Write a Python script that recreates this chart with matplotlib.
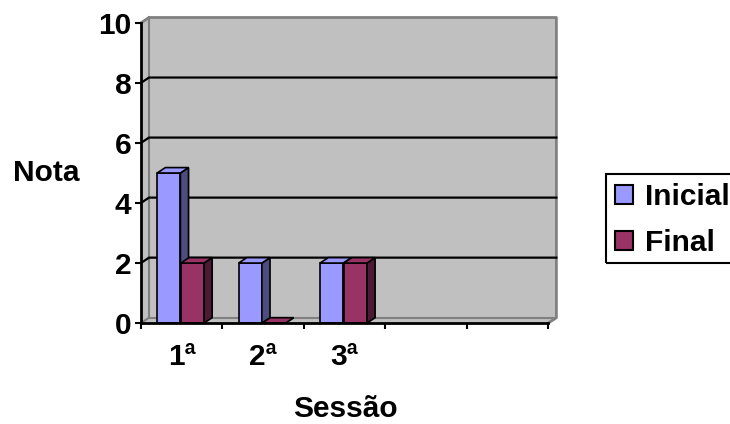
import numpy as np
import matplotlib.pyplot as plt
from matplotlib.patches import Polygon, Patch, Rectangle

plt.rcParams['font.family'] = ['Liberation Sans', 'DejaVu Sans']
plt.rcParams['font.weight'] = 'bold'

# notas por sessão
sessoes = ['1ª', '2ª', '3ª']
n_slots = 5
inicial = [5, 2, 2]
final = [2, 0, 2]
yticks = [0, 2, 4, 6, 8, 10]

cor_ini = '#9999FF'
cor_ini_lado = '#4D4D80'
cor_fin = '#993366'
cor_fin_lado = '#4D1A33'
parede = '#C0C0C0'
borda = '#808080'

# profundidade do efeito 3D (em unidades dos dados)
dx, dy = 0.1, 0.18
w = 0.285
fs = 21.5

fig = plt.figure(figsize=(7.3, 4.24), dpi=100)
ax = fig.add_axes([0.193, 0.238, 0.558, 0.708])
ax.set_xlim(0, n_slots)
ax.set_ylim(0, 10)
ax.patch.set_visible(False)

top = yticks[-1]
# paredes e piso
ax.add_patch(Polygon([(0, 0), (dx, dy), (dx, top + dy), (0, top)], closed=True,
                     fc=parede, ec='none', clip_on=False, zorder=0))
ax.add_patch(Polygon([(dx, dy), (n_slots + dx, dy), (n_slots + dx, top + dy), (dx, top + dy)],
                     closed=True, fc=parede, ec='none', clip_on=False, zorder=0))
ax.add_patch(Polygon([(0, 0), (n_slots, 0), (n_slots + dx, dy), (dx, dy)], closed=True,
                     fc=parede, ec='none', clip_on=False, zorder=0))
# bordas cinzas
ax.plot([0, dx, n_slots + dx, n_slots + dx, n_slots], [top, top + dy, top + dy, dy, 0],
        color=borda, lw=2, clip_on=False, zorder=1)
ax.plot([dx, dx, n_slots + dx], [top + dy, dy, dy], color=borda, lw=1.5, clip_on=False, zorder=1)
ax.plot([0, dx], [0, dy], color=borda, lw=1.5, clip_on=False, zorder=1)

# linhas de grade
for v in yticks[1:-1]:
    ax.plot([0, dx, n_slots + dx], [v, v + dy, v + dy], color='black', lw=1.6,
            clip_on=False, zorder=1)


def barras_3d(xs, vals, cor, cor_lado, z):
    ax.bar(xs, vals, width=w, align='edge', color=cor, edgecolor='black',
           linewidth=1.2, zorder=z)
    for x, v in zip(xs, vals):
        lado = [(x + w, 0), (x + w + dx, dy), (x + w + dx, v + dy), (x + w, v)]
        tampa = [(x, v), (x + dx, v + dy), (x + w + dx, v + dy), (x + w, v)]
        ax.add_patch(Polygon(lado, closed=True, fc=cor_lado, ec='black', lw=1.2,
                             zorder=z, clip_on=False))
        ax.add_patch(Polygon(tampa, closed=True, fc=cor, ec='black', lw=1.2,
                             zorder=z, clip_on=False))


idx = np.arange(len(sessoes))
barras_3d(idx + 0.2, inicial, cor_ini, cor_ini_lado, 3)
barras_3d(idx + 0.49, final, cor_fin, cor_fin_lado, 4)

# eixos
for s in ['top', 'right']:
    ax.spines[s].set_visible(False)
for s in ['left', 'bottom']:
    ax.spines[s].set_linewidth(2)
    ax.spines[s].set_zorder(5)

ax.set_yticks(yticks)
ax.set_yticklabels([str(t) for t in yticks])
ax.tick_params(axis='y', direction='out', length=4, width=1.5, pad=3, labelsize=fs)
ax.set_xticks(np.arange(n_slots + 1))
ax.set_xticklabels([])
ax.tick_params(axis='x', which='major', direction='out', length=4, width=1.5)
ax.set_xticks(idx + 0.5, minor=True)
ax.set_xticklabels(sessoes, minor=True)
ax.tick_params(axis='x', which='minor', length=0, pad=14, labelsize=fs)

ax.set_ylabel('Nota', rotation=0, fontsize=fs, fontweight='bold', va='center', ha='center')
ax.yaxis.set_label_coords(-0.233, 0.5)
ax.set_xlabel('Sessão', fontsize=fs, fontweight='bold', va='center', ha='center')
ax.xaxis.set_label_coords(0.501, -0.285)

# legenda: caixa passa da borda direita da figura
W, H = 730, 424
fig.add_artist(Rectangle((606 / W, 1 - 263 / H), 150 / W, 89 / H, transform=fig.transFigure,
                         fill=False, ec='black', lw=1.5, clip_on=False))
handles = [Patch(fc=cor_ini, ec='black', lw=1.5), Patch(fc=cor_fin, ec='black', lw=1.5)]
leg = fig.legend(handles, ['Inicial', 'Final'], loc='upper left',
                 bbox_to_anchor=(615 / W, 1 - 183 / H), frameon=False, fontsize=fs,
                 handlelength=0.6, handleheight=0.6, handletextpad=0.4,
                 labelspacing=0.6, borderpad=0, borderaxespad=0)

fig.savefig('out.png', dpi=100)
